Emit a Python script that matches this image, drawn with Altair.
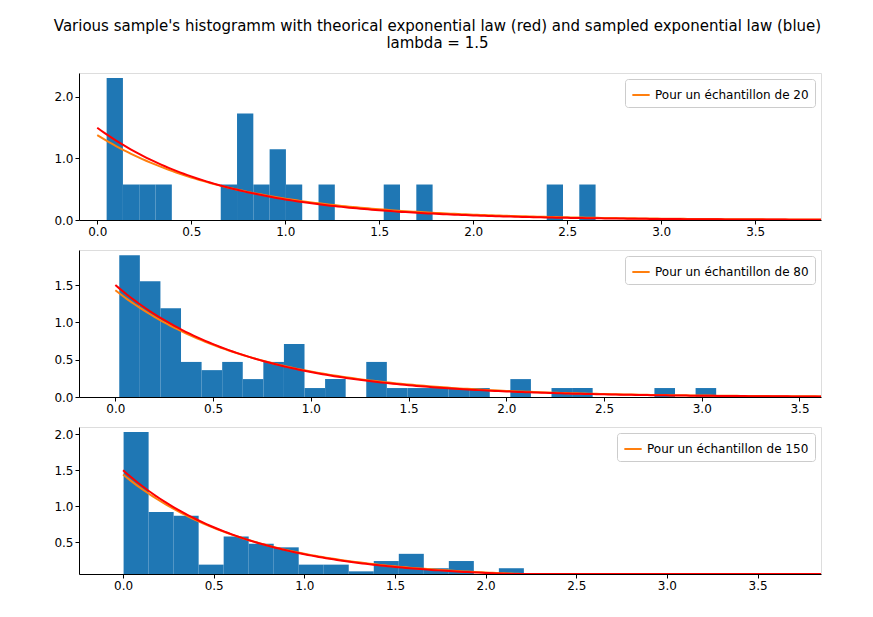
import altair as alt
import numpy as np
import pandas as pd

title_lines = ["Various sample's histogramm with theorical exponential law (red) and sampled exponential law (blue)", "lambda = 1.5"]
lam_true = 1.5
sizes = [20, 80, 150]
lam_sampled = [1.38, 1.43, 1.44]
bin_start = [0.05, 0.02, 0.003]
bin_width = [0.0867, 0.1053, 0.138]
heights1 = [2.31, 0.577, 0.577, 0.577, 0, 0, 0, 0.577, 1.73, 0.577, 1.15, 0.577, 0, 0.577, 0, 0, 0,
            0.577, 0, 0.577, 0, 0, 0, 0, 0, 0, 0, 0.577, 0, 0.577]
heights2 = [1.90, 1.55, 1.19, 0.47, 0.36, 0.47, 0.24, 0.47, 0.71, 0.12, 0.24, 0, 0.47, 0.12, 0.12,
            0.12, 0.12, 0.12, 0, 0.24, 0, 0.12, 0.12, 0, 0, 0, 0.12, 0, 0.12]
heights3 = [2.03, 0.92, 0.87, 0.19, 0.58, 0.48, 0.43, 0.19, 0.19, 0.097, 0.24, 0.34, 0.14, 0.24, 0,
            0.14, 0, 0, 0, 0, 0, 0.05]
heights = [heights1, heights2, heights3]
x_domains = [[-0.097, 3.85], [-0.186, 3.61], [-0.243, 3.85]]
y_domains = [[0, 2.39], [0, 1.97], [0.06, 2.1]]
y_ticks = [[0, 0.5, 1.0, 1.5, 2.0], [0, 0.5, 1.0, 1.5], [0.5, 1.0, 1.5, 2.0]]
x_ticks = [0, 0.5, 1.0, 1.5, 2.0, 2.5, 3.0, 3.5]

xs = np.linspace(0, 4, 201)
panels = []
for i in range(3):
    h = heights[i]
    bars = pd.DataFrame({
        "x0": [bin_start[i] + k * bin_width[i] for k in range(len(h))],
        "x1": [bin_start[i] + (k + 1) * bin_width[i] for k in range(len(h))],
        "h": h,
    })
    bars = bars[bars.h > 0]
    label = f"Pour un échantillon de {sizes[i]}"
    samp = pd.DataFrame({"x": xs, "y": lam_sampled[i] * np.exp(-lam_sampled[i] * xs), "s": label})
    theo = pd.DataFrame({"x": xs, "y": lam_true * np.exp(-lam_true * xs)})
    xsc = alt.Scale(domain=x_domains[i], nice=False, zero=False)
    ysc = alt.Scale(domain=y_domains[i], nice=False, zero=False, clamp=True)
    common = dict(grid=False, title=None, labelFontSize=12, tickColor="black", domainColor="black",
                  labelColor="black", labelOverlap=False, tickSize=4)
    xax = alt.Axis(values=x_ticks, format=".1f", **common)
    yax = alt.Axis(values=y_ticks[i], format=".1f", **common)
    b = alt.Chart(bars).mark_rect(color="#1f77b4", strokeWidth=0, clip=True).encode(
        x=alt.X("x0:Q", scale=xsc, axis=xax), x2="x1", y=alt.Y("h:Q", scale=ysc, axis=yax), y2=alt.datum(0))
    o = alt.Chart(samp).mark_line(strokeWidth=2, clip=True).encode(
        x="x:Q", y="y:Q",
        color=alt.Color("s:N", scale=alt.Scale(domain=[label], range=["#ff7f0e"]),
                        legend=alt.Legend(title=None, orient="top-right", offset=6, fillColor="white", strokeColor="#cccccc",
                                          padding=6, cornerRadius=3, labelFontSize=12, symbolType="stroke",
                                          symbolStrokeWidth=2, symbolSize=300, labelLimit=300)))
    r = alt.Chart(theo).mark_line(strokeWidth=2, color="red", clip=True).encode(x="x:Q", y="y:Q")
    panels.append(alt.layer(b, o, r).properties(width=742, height=147))

chart = alt.vconcat(*panels, spacing=11).resolve_scale(color="independent").properties(
    title=alt.TitleParams(title_lines, anchor="middle", fontSize=15, fontWeight="normal", font="DejaVu Sans", offset=22),
    padding={"left": 45, "top": 10, "right": 5, "bottom": 5}
).configure_view(stroke="black", strokeWidth=1, strokeOpacity=1).configure(font="DejaVu Sans")

chart.save("out.html", embed_options={"renderer": "svg", "actions": False})
